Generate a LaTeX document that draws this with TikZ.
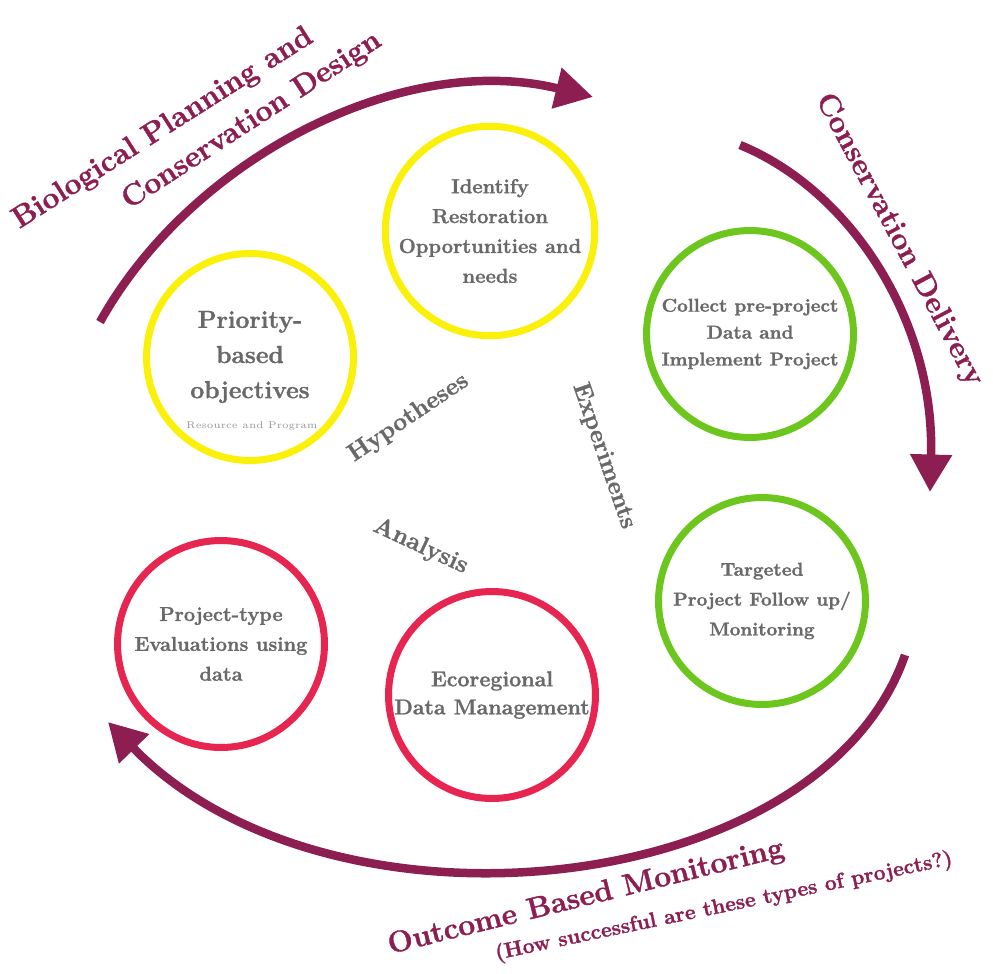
\documentclass[tikz,border=0pt]{standalone}
\usepackage{fontspec}
\setmainfont{Latin Modern Roman}[BoldFeatures={FakeBold=1.3}]
\usetikzlibrary{arrows.meta}
\definecolor{ylw}{RGB}{250,240,10}
\definecolor{grn}{RGB}{108,198,30}
\definecolor{rd}{RGB}{230,38,80}
\definecolor{mar}{RGB}{140,30,82}
\definecolor{txt}{RGB}{105,105,105}
\definecolor{faint}{RGB}{150,150,150}
\begin{document}
\begin{tikzpicture}[x=0.02cm,y=-0.02cm,
  ring/.style={circle,draw,line width=0.14cm,minimum size=4.14cm,inner sep=0pt,align=center,text=txt},
  flow/.style={draw=mar,line width=0.17cm,-{Triangle[length=0.75cm,width=0.8cm]}},
  phase/.style={text=mar,anchor=base,font=\bfseries\fontsize{17}{20}\selectfont},
  mid/.style={text=txt,anchor=base,font=\bfseries\fontsize{14}{16}\selectfont}]
\useasboundingbox (0,0) rectangle (993,973);

% circles
\node[ring,draw=ylw,font=\bfseries\fontsize{14}{20}\selectfont] (prio) at (250,357) {Priority-\\based\\objectives};
\node[ring,draw=ylw,font=\bfseries\fontsize{11.5}{17}\selectfont] (ident) at (490,231) {Identify\\Restoration\\Opportunities and\\needs};
\node[ring,draw=grn,font=\bfseries\fontsize{10.6}{15.3}\selectfont] (collect) at (750,334) {Collect pre-project\\Data and\\Implement Project};
\node[ring,draw=grn,font=\bfseries\fontsize{10.6}{17}\selectfont] (target) at (762,601) {Targeted\\Project Follow up/\\Monitoring};
\node[ring,draw=rd,font=\bfseries\fontsize{12.2}{16}\selectfont] (eco) at (492,695) {Ecoregional\\Data Management};
\node[ring,draw=rd,font=\bfseries\fontsize{11.4}{17}\selectfont] (ptype) at (221,644) {Project-type\\Evaluations using\\data};
\node[text=faint,font=\fontsize{5.5}{6}\selectfont] (res) at (252,426) {Resource and Program};

% arrows
\coordinate (a1s) at (100,322);
\coordinate (a1e) at (593,97);
\draw[flow] (a1s) .. controls (190,160) and (400,50) .. (a1e);
\coordinate (a2s) at (740,145);
\coordinate (a2e) at (930,492);
\draw[flow] (a2s) .. controls (850,190) and (935,320) .. (a2e);
\coordinate (a3s) at (905,655);
\coordinate (a3e) at (108,722);
\draw[flow] (a3s) .. controls (820,900) and (330,950) .. (a3e);

% phase labels
\node[phase,rotate=32.5] (bio1) at (167,135) {Biological Planning and};
\node[phase,rotate=33] (bio2) at (256,127) {Conservation Design};
\node[phase,rotate=-62,anchor=center] (deliv) at (899,240) {Conservation Delivery};
\node[phase,rotate=13.9] (outc) at (588,905) {Outcome Based Monitoring};
\node[phase,rotate=11.8,font=\bfseries\fontsize{12}{14}\selectfont] (how) at (725,912) {(How successful are these types of projects?)};

% inner labels
\node[mid,rotate=34] (hyp) at (412,423) {Hypotheses};
\node[mid,rotate=-71] (exp) at (598,458) {Experiments};
\node[mid,rotate=-25] (ana) at (418,552) {Analysis};
\end{tikzpicture}
\end{document}
